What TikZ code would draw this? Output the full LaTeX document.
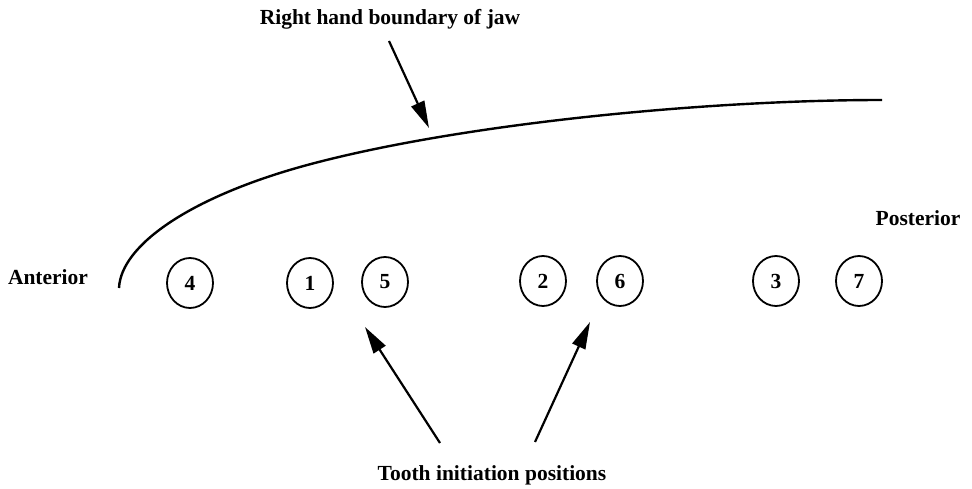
\documentclass[tikz,border=0pt]{standalone}
\usepackage{fontspec}
\setmainfont{Liberation Serif}
\usetikzlibrary{arrows.meta,shapes.geometric}
\begin{document}
\begin{tikzpicture}[x=1pt,y=-1pt,
  lbl/.style={font=\fontsize{21.5}{24}\selectfont\bfseries, inner sep=0pt},
  tooth/.style={draw, line width=1.8pt, ellipse, minimum width=46pt, minimum height=50pt, inner sep=0pt, font=\fontsize{21.5}{24}\selectfont\bfseries},
  pointer/.style={line width=2.2pt, -{Triangle[length=27pt,width=14pt]}},
  jaw/.style={line width=2.4pt}]
\useasboundingbox (0,0) rectangle (972,489);
% labels
\node[lbl] (top) at (390,19) {Right hand boundary of jaw};
\node[lbl] (ant) at (48,277) {Anterior};
\node[lbl] (post) at (918,218) {Posterior};
\node[lbl] (bot) at (492,475) {Tooth initiation positions};
% jaw boundary
\coordinate (jawA) at (119,288);
\coordinate (jawM) at (300,167);
\coordinate (jawB) at (882,100);
\draw[jaw] (jawA) .. controls (121,245) and (190,198) .. (jawM)
                 .. controls (450,125) and (700,100) .. (jawB);
% teeth
\node[tooth] (t4) at (190,283) {4};
\node[tooth] (t1) at (310,283) {1};
\node[tooth] (t5) at (385,282) {5};
\node[tooth] (t2) at (543,281) {2};
\node[tooth] (t6) at (620,281) {6};
\node[tooth] (t3) at (776,281) {3};
\node[tooth] (t7) at (859,281) {7};
% arrow end points
\coordinate (topS) at (389,41);
\coordinate (topE) at (429,128);
\coordinate (b1S) at (440,443);
\coordinate (b1E) at (365,327);
\coordinate (b2S) at (535,442);
\coordinate (b2E) at (590,322);
\draw[pointer] (topS) -- (topE);
\draw[pointer] (b1S) -- (b1E);
\draw[pointer] (b2S) -- (b2E);
\end{tikzpicture}
\end{document}
